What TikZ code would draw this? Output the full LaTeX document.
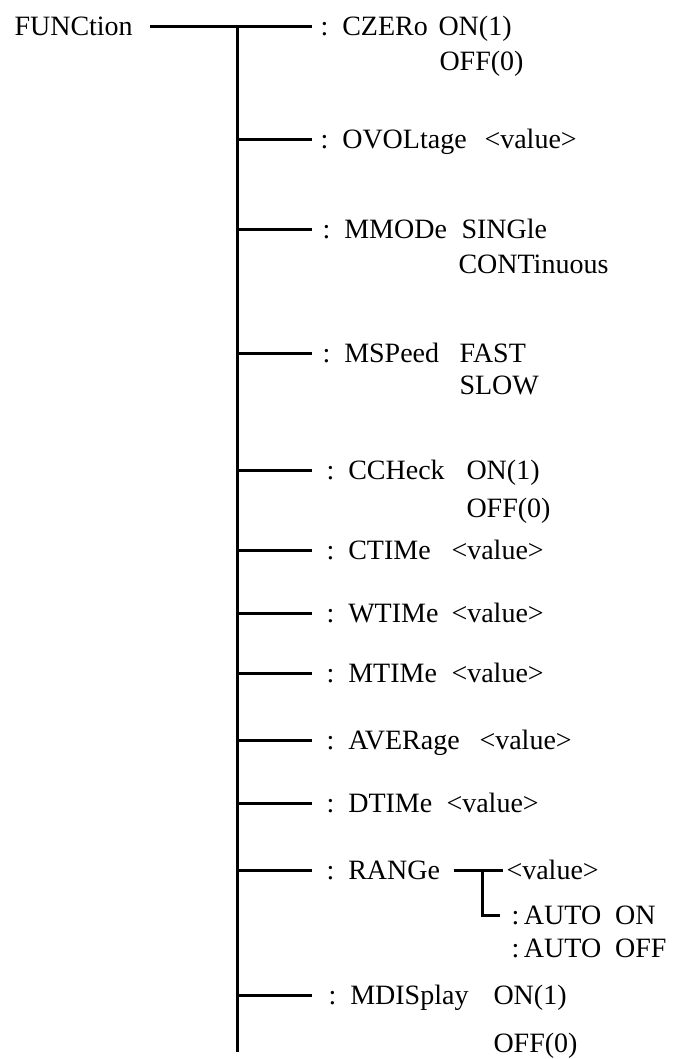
\documentclass[tikz,border=0pt]{standalone}
\usepackage{fontspec}
\setmainfont{Liberation Serif}
\usetikzlibrary{positioning}

\begin{document}
\begin{tikzpicture}[x=1pt, y=-1pt, line width=3pt,
    font=\fontsize{28}{32}\selectfont,
    lbl/.style={anchor=west, inner sep=0pt, text height=18pt, text depth=0pt},
    branch/.style={shorten >=7pt}]
    \useasboundingbox (0,0) rectangle (691,1059);

    % Root and trunk
    \node[lbl] (root) at (13,27) {FUNCtion};
    \coordinate (top) at (237,27);
    \coordinate (bot) at (237,1052);
    \draw (top) -- (bot);

    % Commands
    \node[lbl] (czero) at (319,27) {:\enspace CZERo};
    \node[lbl] (czeroon) at (437,27) {ON(1)};
    \node[lbl] (czerooff) at (438,62) {OFF(0)};

    \node[lbl] (ovol) at (319,140) {:\enspace OVOLtage};
    \node[lbl] (ovolval) at (483,140) {<value>};

    \node[lbl] (mmode) at (321,230) {:\enspace MMODe};
    \node[lbl] (mmodesgl) at (460,230) {SINGle};
    \node[lbl] (mmodecont) at (457,264) {CONTinuous};

    \node[lbl] (mspeed) at (321,353) {:\enspace MSPeed};
    \node[lbl] (mspeedfast) at (458,353) {FAST};
    \node[lbl] (mspeedslow) at (458,385) {SLOW};

    \node[lbl] (ccheck) at (325,470) {:\enspace CCHeck};
    \node[lbl] (ccheckon) at (465,470) {ON(1)};
    \node[lbl] (ccheckoff) at (465,508) {OFF(0)};

    \node[lbl] (ctime) at (325,550) {:\enspace CTIMe};
    \node[lbl] (ctimeval) at (450,550) {<value>};

    \node[lbl] (wtime) at (325,613) {:\enspace WTIMe};
    \node[lbl] (wtimeval) at (450,613) {<value>};

    \node[lbl] (mtime) at (325,673) {:\enspace MTIMe};
    \node[lbl] (mtimeval) at (450,673) {<value>};

    \node[lbl] (aver) at (325,740) {:\enspace AVERage};
    \node[lbl] (averval) at (478,740) {<value>};

    \node[lbl] (dtime) at (325,803) {:\enspace DTIMe};
    \node[lbl] (dtimeval) at (445,803) {<value>};

    \node[lbl] (range) at (325,870) {:\enspace RANGe};
    \node[lbl] (rangeval) at (505,870) {<value>};
    \node[lbl] (rangeon) at (510,915) {:\,AUTO\enspace ON};
    \node[lbl] (rangeoff) at (510,948) {:\,AUTO\enspace OFF};
    \coordinate (rfork) at (482,870);

    \node[lbl] (mdisp) at (327,995) {:\enspace MDISplay};
    \node[lbl] (mdispon) at (492,995) {ON(1)};
    \node[lbl] (mdispoff) at (492,1043) {OFF(0)};

    % Branches
    \draw[shorten <=16pt, branch] (root.east) -- (czero.west);
    \draw[branch] (top |- ovol.west) -- (ovol.west);
    \draw[branch, shorten >=9pt] (top |- mmode.west) -- (mmode.west);
    \draw[branch, shorten >=9pt] (top |- mspeed.west) -- (mspeed.west);
    \draw[branch, shorten >=13pt] (top |- ccheck.west) -- (ccheck.west);
    \draw[branch, shorten >=13pt] (top |- ctime.west) -- (ctime.west);
    \draw[branch, shorten >=13pt] (top |- wtime.west) -- (wtime.west);
    \draw[branch, shorten >=13pt] (top |- mtime.west) -- (mtime.west);
    \draw[branch, shorten >=13pt] (top |- aver.west) -- (aver.west);
    \draw[branch, shorten >=13pt] (top |- dtime.west) -- (dtime.west);
    \draw[branch, shorten >=13pt] (top |- range.west) -- (range.west);
    \draw[branch, shorten >=15pt] (top |- mdisp.west) -- (mdisp.west);

    % RANGe sub-branches
    \draw[shorten <=12pt, shorten >=2pt] (range.east) -- (rangeval.west);
    \draw[shorten >=10pt] (rfork) |- (rangeon.west);
\end{tikzpicture}
\end{document}
